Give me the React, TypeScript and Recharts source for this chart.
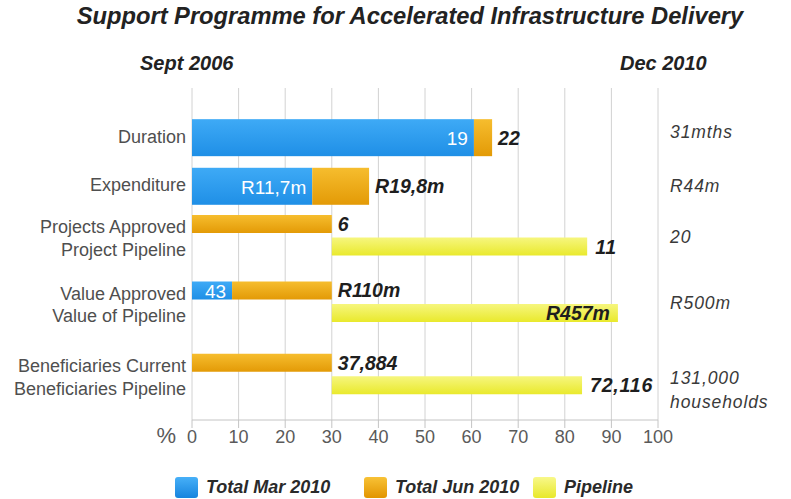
import { BarChart, Bar, XAxis, YAxis, CartesianGrid, LabelList } from 'recharts';

// rows of the chart, top to bottom
const ROWS = [
  'Duration',
  'Expenditure',
  'Projects Approved',
  'Project Pipeline',
  'Value Approved',
  'Value of Pipeline',
  'Beneficiaries Current',
  'Beneficiaries Pipeline',
];

// % of target
const MAR_2010 = [60.5, 25.8, null, null, 8.6, null, null, null];
const JUN_2010 = [64.4, 38.0, 30, null, 30, null, 30, null];
const PIPELINE_FROM = [null, null, null, 30, null, 30, null, 30];
const PIPELINE_TO = [null, null, null, 84.8, null, 91.4, null, 83.7];

const MAR_LABELS = ['19', 'R11,7m', null, null, '43', null, null, null];
const JUN_LABELS = ['22', 'R19,8m', '6', null, 'R110m', null, '37,884', null];
const PIPE_LABELS = [null, null, null, '11', null, 'R457m', null, '72,116'];

const TARGETS = ['31mths', 'R44m', '20', 'R500m', '131,000\nhouseholds'];
const X_TICKS = [0, 10, 20, 30, 40, 50, 60, 70, 80, 90, 100];
const LEGEND = [
  { name: 'Total Mar 2010', top: '#47b0f8', bottom: '#1684de' },
  { name: 'Total Jun 2010', top: '#f8c236', bottom: '#e29500' },
  { name: 'Pipeline', top: '#f8f88a', bottom: '#e8e82a' },
];

// layout: vertical slot of each row / target text (0 = top of plot, 14 = bottom)
const ROW_POS = [2.1, 4.15, 5.75, 6.7, 8.55, 9.5, 11.6, 12.55];
const TARGET_POS = [1.86, 4.13, 6.28, 9.07, 12.74];
const THICK_ROWS = ['Duration', 'Expenditure'];
const PIPE_INSIDE = ['Value of Pipeline'];
const LEGEND_X = [175, 364, 533];

const FONT = '"Liberation Sans", Arial, sans-serif';

const data = ROWS.map((name, i) => {
  const thick = THICK_ROWS.includes(name);
  const mar = MAR_2010[i];
  const jun = JUN_2010[i];
  const junPart = jun == null ? null : jun - (mar ?? 0);
  return {
    name,
    pos: ROW_POS[i],
    marThick: thick ? mar : null,
    junThick: thick ? junPart : null,
    marThin: thick ? null : mar,
    junThin: thick ? null : junPart,
    pipe: PIPELINE_TO[i] == null ? null : [PIPELINE_FROM[i], PIPELINE_TO[i]],
    marLabel: MAR_LABELS[i],
    junLabel: JUN_LABELS[i],
    pipeLabel: PIPE_LABELS[i],
  };
});

// the thick rows are taller than the row spacing allows, so widen them around their centre
const ThickBar = (props: any) => {
  const { x, y, width, height, fill } = props;
  if (!width) return null;
  return <rect x={x} y={y + height / 2 - 18.5} width={width} height={37} fill={fill} />;
};

const insideLabel = (props: any) => {
  const { x, y, width, height } = props.viewBox ?? props;
  if (!props.value || !width) return null;
  return (
    <text x={x + width - 6} y={y + height / 2 + 1} textAnchor="end" dominantBaseline="central"
      fill="#ffffff" fontSize={19} fontFamily={FONT}>
      {props.value}
    </text>
  );
};

const outsideLabel = (props: any) => {
  const { x, y, width, height } = props.viewBox ?? props;
  if (!props.value || !width) return null;
  return (
    <text x={x + width + 6} y={y + height / 2} textAnchor="start" dominantBaseline="central"
      fill="#1e1e1e" fontSize={19.5} fontWeight="bold" fontStyle="italic" fontFamily={FONT}>
      {props.value}
    </text>
  );
};

const pipeLabel = (props: any) => {
  const { x, y, width, height } = props.viewBox ?? props;
  if (!props.value || !width) return null;
  const inside = PIPE_INSIDE.includes(ROWS[PIPE_LABELS.indexOf(props.value)]);
  return (
    <text x={inside ? x + width - 8 : x + width + 8} y={y + height / 2} textAnchor={inside ? 'end' : 'start'}
      dominantBaseline="central" fill="#1e1e1e" fontSize={19.5} fontWeight="bold" fontStyle="italic" fontFamily={FONT}
      letterSpacing={inside ? 0 : 0.8}>
      {props.value}
    </text>
  );
};

const RowTick = (props: any) => {
  const { x, y, payload } = props;
  const name = ROWS[ROW_POS.indexOf(payload.value)];
  const dy = THICK_ROWS.includes(name) ? -1 : 3;
  return (
    <text x={x} y={y + dy} textAnchor="end" dominantBaseline="central" fill="#4f4f4f" fontSize={18} fontFamily={FONT}>
      {name}
    </text>
  );
};

const TargetTick = (props: any) => {
  const { x, y, payload } = props;
  const lines = TARGETS[TARGET_POS.indexOf(payload.value)].split('\n');
  return (
    <text x={x} y={y - (lines.length - 1) * 12} fill="#3a3a3a" fontSize={17.5} fontStyle="italic" fontFamily={FONT} letterSpacing={0.9}>
      {lines.map((l, i) => (
        <tspan key={i} x={x} dy={i === 0 ? '0.35em' : 24}>{l}</tspan>
      ))}
    </text>
  );
};

const hiddenY = (id: string, ticks: number[]) => (
  <YAxis yAxisId={id} hide type="number" dataKey="pos" domain={[0, 14]} allowDataOverflow tickCount={8} ticks={ticks} />
);

export default function App() {
  return (
    <div style={{ position: 'absolute', left: 0, top: 0, width: 791, height: 499, background: '#fff', fontFamily: FONT }}>
      <div style={{ position: 'absolute', left: 0, width: 820, top: 3, textAlign: 'center', fontSize: 23.7, fontWeight: 'bold', fontStyle: 'italic', color: '#222' }}>
        Support Programme for Accelerated Infrastructure Delivery
      </div>
      <div style={{ position: 'absolute', left: 140, top: 52, fontSize: 20, fontWeight: 'bold', fontStyle: 'italic', color: '#222' }}>Sept 2006</div>
      <div style={{ position: 'absolute', left: 620, top: 52, fontSize: 20, fontWeight: 'bold', fontStyle: 'italic', color: '#222' }}>Dec 2010</div>

      <BarChart width={791} height={499} layout="vertical" data={data} margin={{ top: 88, right: 0, bottom: 49, left: 0 }} style={{ position: 'absolute', left: 0, top: 0 }}>
        <defs>
          <linearGradient id="gBlue" x1="0" y1="0" x2="0" y2="1">
            <stop offset="0%" stopColor="#3eaaf6" />
            <stop offset="100%" stopColor="#1f8fe6" />
          </linearGradient>
          <linearGradient id="gOrange" x1="0" y1="0" x2="0" y2="1">
            <stop offset="0%" stopColor="#f6bd2e" />
            <stop offset="100%" stopColor="#e39a06" />
          </linearGradient>
          <linearGradient id="gYellow" x1="0" y1="0" x2="0" y2="1">
            <stop offset="0%" stopColor="#f6f67e" />
            <stop offset="100%" stopColor="#e9e92c" />
          </linearGradient>
        </defs>
        <CartesianGrid horizontal={false} stroke="#d2d2d2" yAxisId="labels" />
        <XAxis type="number" domain={[0, 100]} ticks={X_TICKS} height={30} tickSize={8}
          axisLine={{ stroke: '#c4c4c4' }} tickLine={{ stroke: '#c4c4c4' }}
          tick={{ fill: '#5a5a5a', fontSize: 18, fontFamily: FONT }}
          label={{ value: '%', position: 'left', offset: 16, fontSize: 22, fill: '#5a5a5a', fontFamily: FONT }} />
        <YAxis yAxisId="labels" type="number" dataKey="pos" domain={[0, 14]} allowDataOverflow tickCount={8}
          ticks={ROW_POS} interval={0} width={192} axisLine={false} tickLine={false} tickMargin={0} tick={<RowTick />} />
        <YAxis yAxisId="targets" orientation="right" type="number" dataKey="pos" domain={[0, 14]} allowDataOverflow
          tickCount={8} ticks={TARGET_POS} interval={0} width={133} axisLine={false} tickLine={false} tickMargin={6} tick={<TargetTick />} />
        {hiddenY('thick', [2.1, 4.15])}
        {hiddenY('thin', [5.75, 8.55, 11.6])}
        {hiddenY('pipe', [6.7, 9.5, 12.55])}

        <Bar yAxisId="thick" dataKey="marThick" stackId="thick" barSize={37} fill="url(#gBlue)" shape={<ThickBar />} isAnimationActive={false}>
          <LabelList dataKey="marLabel" content={insideLabel} />
        </Bar>
        <Bar yAxisId="thick" dataKey="junThick" stackId="thick" barSize={37} fill="url(#gOrange)" shape={<ThickBar />} isAnimationActive={false}>
          <LabelList dataKey="junLabel" content={outsideLabel} />
        </Bar>
        <Bar yAxisId="thin" dataKey="marThin" stackId="thin" barSize={18} fill="url(#gBlue)" isAnimationActive={false}>
          <LabelList dataKey="marLabel" content={insideLabel} />
        </Bar>
        <Bar yAxisId="thin" dataKey="junThin" stackId="thin" barSize={18} fill="url(#gOrange)" isAnimationActive={false}>
          <LabelList dataKey="junLabel" content={outsideLabel} />
        </Bar>
        <Bar yAxisId="pipe" dataKey="pipe" barSize={18} fill="url(#gYellow)" isAnimationActive={false}>
          <LabelList dataKey="pipeLabel" content={pipeLabel} />
        </Bar>
      </BarChart>

      {LEGEND.map((item, i) => (
        <div key={item.name} style={{ position: 'absolute', left: LEGEND_X[i], top: 477, display: 'flex', alignItems: 'center' }}>
          <div style={{ width: 23, height: 21, borderRadius: 3, background: `linear-gradient(${item.top}, ${item.bottom})` }} />
          <span style={{ marginLeft: 8, fontSize: 18, fontWeight: 'bold', fontStyle: 'italic', color: '#2a2a2a' }}>{item.name}</span>
        </div>
      ))}
    </div>
  );
}
